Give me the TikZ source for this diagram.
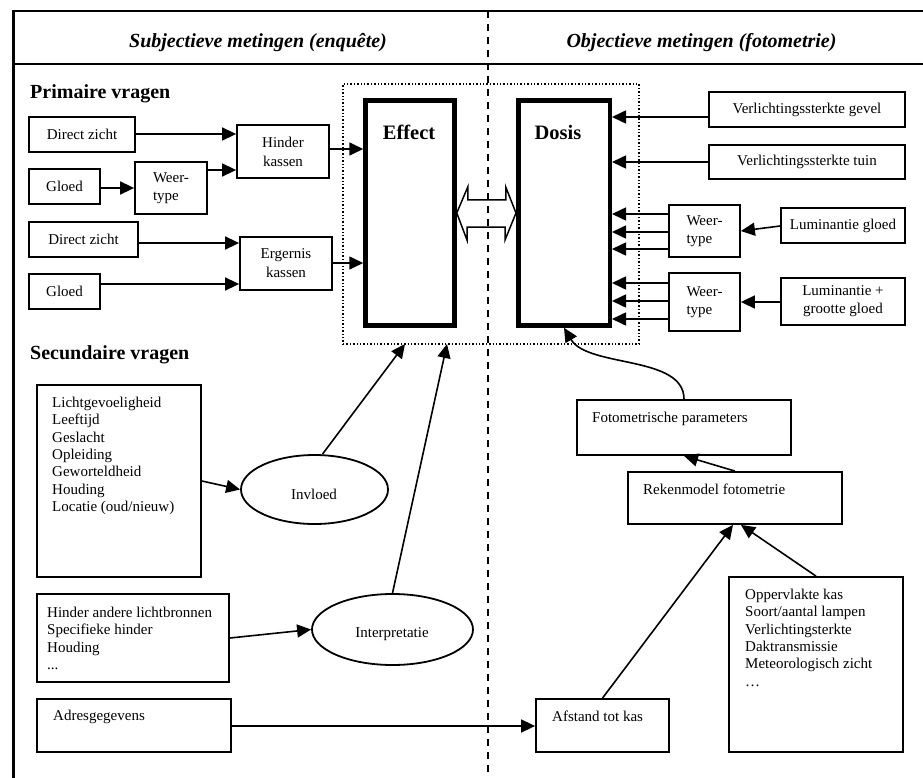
\documentclass[tikz,border=0pt]{standalone}
\usepackage{fontspec}
\setmainfont{Liberation Serif}
\usetikzlibrary{arrows.meta,shapes.geometric,calc}
\newcommand\myfnt{\fontsize{15}{17.3}\selectfont}
\newcommand\myhead{\fontsize{20}{24}\selectfont\bfseries}
\begin{document}
\begin{tikzpicture}[x=1pt,y=-1pt,
  box/.style={draw,line width=1.8pt,inner sep=0pt,font=\myfnt,align=center},
  ell/.style={draw,ellipse,line width=1.8pt,inner sep=0pt},
  bigbox/.style={draw,line width=4.5pt,inner sep=0pt},
  txt/.style={inner sep=0pt,font=\myfnt,align=left,anchor=north west},
  stxt/.style={inner sep=0pt,font=\myfnt,anchor=west},
  arr/.style={line width=1.6pt,-{Triangle[length=14pt,width=13pt]}},
]
\useasboundingbox (0,0) rectangle (923,778);
\clip (0,0) rectangle (923,778);
\newcommand\lr[3]{\draw[arr] (#1.east |- 0,#3) -- (#2.west |- 0,#3);}
\newcommand\rl[3]{\draw[arr] (#1.west |- 0,#3) -- (#2.east |- 0,#3);}

% frame
\draw[line width=2.2pt] (13.5,790) -- (13.5,11) -- (930,11);
\draw[line width=2.2pt] (13.5,64) -- (930,64);

% headers
\node[font=\myhead\itshape] (h1) at (258,43) {Subjectieve metingen (enquête)};
\node[font=\myhead\itshape] (h2) at (701.5,43) {Objectieve metingen (fotometrie)};
\node[anchor=west,inner sep=0pt,font=\myhead] (pv) at (30,94) {Primaire vragen};
\node[anchor=west,inner sep=0pt,font=\myhead] (sv) at (30,355) {Secundaire vragen};

% dotted frame and main blocks
\node[draw,dotted,line width=1.4pt,minimum width=296pt,minimum height=260pt,inner sep=0pt] (dotbox) at (491,214) {};
\node[bigbox,minimum width=89pt,minimum height=225pt] (effect) at (410,213) {};
\node[font=\fontsize{20.5}{24}\selectfont\bfseries] (efftxt) at (409,132) {Effect};
\node[bigbox,minimum width=91.5pt,minimum height=225pt] (dosis) at (564,213) {};
\node[font=\fontsize{20.5}{24}\selectfont\bfseries] (dostxt) at (558,132) {Dosis};

% primary questions (left)
\node[box,minimum width=106pt,minimum height=35pt] (dz1) at (82,134.5) {Direct zicht};
\node[box,minimum width=71pt,minimum height=35pt] (gl1) at (64.5,186.5) {Gloed};
\node[box,align=left,minimum width=72pt,minimum height=52pt] (wt1) at (171,188) {Weer-\\[1pt]type};
\node[box,minimum width=92pt,minimum height=53pt] (hk) at (283,151.5) {Hinder\\[1.5pt]kassen};
\node[box,minimum width=109pt,minimum height=35pt] (dz2) at (83.5,239.5) {Direct zicht};
\node[box,minimum width=71pt,minimum height=35pt] (gl2) at (64.5,291.5) {Gloed};
\node[box,minimum width=92pt,minimum height=53pt] (ek) at (286,263.5) {Ergernis\\[1.5pt]kassen};

\lr{dz1}{hk}{134}
\lr{wt1}{hk}{170}
\lr{gl1}{wt1}{188}
\lr{hk}{effect}{149}
\lr{dz2}{ek}{243}
\lr{gl2}{ek}{284}
\lr{ek}{effect}{263}

% photometry inputs (right)
\node[box,minimum width=196pt,minimum height=35pt] (vg) at (807,109.5) {Verlichtingssterkte gevel};
\node[box,minimum width=196pt,minimum height=34pt] (vt) at (807,162) {Verlichtingssterkte tuin};
\node[box,align=left,minimum width=71pt,minimum height=52pt] (wt2) at (704.5,231) {Weer-\\[1pt]type};
\node[box,minimum width=124pt,minimum height=35pt] (lg) at (843,225.5) {Luminantie gloed};
\node[box,align=left,minimum width=71pt,minimum height=58pt] (wt3) at (704.5,302) {Weer-\\[1pt]type};
\node[box,minimum width=124pt,minimum height=47pt] (lgg) at (843,301.5) {Luminantie +\\[1pt]grootte gloed};

\rl{vg}{dosis}{117}
\rl{vt}{dosis}{162}
\rl{wt2}{dosis}{214}
\rl{wt2}{dosis}{232}
\rl{wt2}{dosis}{249}
\rl{wt3}{dosis}{283}
\rl{wt3}{dosis}{301}
\rl{wt3}{dosis}{319}
\draw[arr] (lg.west |- 0,226) -- (wt2.east |- 0,231);
\rl{lgg}{wt3}{302}

% double arrow between Effect and Dosis
\draw[line width=1.5pt,fill=white,line join=miter] (effect.east) -- ++(11,-26) -- ++(0,13) -- ++(38,0) -- ++(0,-13)
  -- (dosis.west) -- ++(-11,27) -- ++(0,-13) -- ++(-38,0) -- ++(0,13) -- cycle;

% secondary questions
\node[box,minimum width=164pt,minimum height=192pt] (lv) at (119,481) {};
\node[txt] (lvtxt) at (52,397) {Lichtgevoeligheid\\Leeftijd\\Geslacht\\Opleiding\\Geworteldheid\\Houding\\Locatie (oud/nieuw)};
\node[ell,minimum width=147pt,minimum height=69pt] (invloed) at (314.5,489.5) {};
\node[inner sep=0pt,font=\myfnt] (invtxt) at (314,494) {Invloed};

\node[box,minimum width=192pt,minimum height=88pt] (ha) at (133,638) {};
\node[txt] (hatxt) at (47,607) {Hinder andere lichtbronnen\\Specifieke hinder\\Houding\\...};
\node[ell,minimum width=161pt,minimum height=71pt] (interp) at (392.5,629.5) {};
\node[inner sep=0pt,font=\myfnt] (inttxt) at (392,634) {Interpretatie};

\node[box,minimum width=194pt,minimum height=53pt] (ad) at (134,725.5) {};
\node[stxt] (adtxt) at (53,717) {Adresgegevens};

\coordinate (e1) at (405,344);
\coordinate (e2) at (447,344);
\draw[arr] (lv.east) -- (invloed.west);
\draw[arr] ([xshift=8pt]invloed.north) -- (e1);
\draw[arr] (ha.east) -- (interp.west);
\draw[arr] (interp.north) -- (e2);

% photometric model
\node[box,minimum width=214pt,minimum height=55pt] (fp) at (684,427.5) {};
\node[stxt] (fptxt) at (592,419) {Fotometrische parameters};
\node[box,minimum width=214pt,minimum height=52pt] (rf) at (735,498) {};
\node[stxt] (rftxt) at (643,489) {Rekenmodel fotometrie};
\node[box,minimum width=133pt,minimum height=53pt] (ak) at (602.5,725.5) {};
\node[stxt] (aktxt) at (552,716) {Afstand tot kas};
\node[box,minimum width=174pt,minimum height=175pt] (op) at (816,664.5) {};
\node[txt] (optxt) at (745,589) {Oppervlakte kas\\Soort/aantal lampen\\Verlichtingsterkte\\Daktransmissie\\Meteorologisch zicht\\…};

\draw[arr] (fp.north) .. controls (684,355) and (588,368) .. (dosis.south);
\draw[arr] (rf.north) -- (fp.south);
\draw[arr] (ak.north) -- ([xshift=-2pt]rf.south);
\draw[arr] (op.north) -- ([xshift=6pt]rf.south);
\lr{ad}{ak}{726}

% dashed divider
\draw[line width=1.8pt,dash pattern=on 7pt off 6pt] (488,11) -- (488,790);
\end{tikzpicture}
\end{document}
